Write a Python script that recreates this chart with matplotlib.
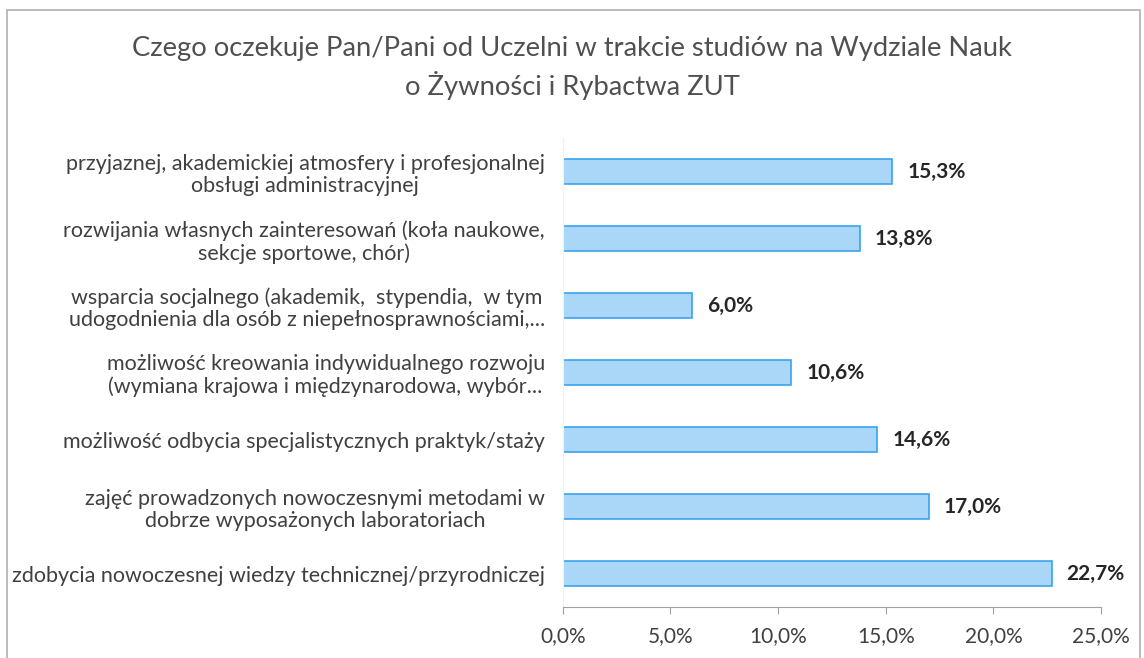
import matplotlib.pyplot as plt
from matplotlib.patches import Rectangle
from matplotlib.ticker import FuncFormatter

# dane (od góry do dołu)
categories = [
    'przyjaznej, akademickiej atmosfery i profesjonalnej\nobsługi administracyjnej',
    'rozwijania własnych zainteresowań (koła naukowe,\nsekcje sportowe, chór)',
    'wsparcia socjalnego (akademik,  stypendia,  w tym\nudogodnienia dla osób z niepełnosprawnościami,...',
    'możliwość kreowania indywidualnego rozwoju\n(wymiana krajowa i międzynarodowa, wybór...',
    'możliwość odbycia specjalistycznych praktyk/staży',
    'zajęć prowadzonych nowoczesnymi metodami w\ndobrze wyposażonych laboratoriach',
    'zdobycia nowoczesnej wiedzy technicznej/przyrodniczej',
]
values = [15.3, 13.8, 6.0, 10.6, 14.6, 17.0, 22.7]
xticks = [0, 5, 10, 15, 20, 25]

plt.rcParams['font.family'] = ['Lato', 'DejaVu Sans']

fig = plt.figure(figsize=(11.44, 6.58), dpi=100)
fig.patch.set_facecolor('white')
fig.patches.append(Rectangle((7 / 1144, -0.05), 1133 / 1144, 1.05 - 10 / 658,
                             transform=fig.transFigure, fill=False,
                             edgecolor='#b0b0b0', linewidth=1.2))

ax = fig.add_axes([0.492, 0.0775, 0.4705, 0.7125])
ys = list(range(len(values)))
ax.barh(ys, values, height=0.38, color='#aad6f7', edgecolor='#3aa3ee', linewidth=1.2)
ax.set_ylim(len(values) - 0.5, -0.5)
ax.set_xlim(0, 25)

ax.set_yticks(ys)
ax.set_yticklabels(categories, fontsize=15.5, color='#404040',
                   multialignment='center', linespacing=1.15)
ax.tick_params(axis='y', length=0, pad=13)

ax.set_xticks(xticks)
ax.xaxis.set_major_formatter(FuncFormatter(lambda v, p: f'{v:.1f}%'.replace('.', ',')))
ax.tick_params(axis='x', length=5, color='#a0a0a0', labelsize=15, labelcolor='#404040', pad=9)

for s in ['top', 'right']:
    ax.spines[s].set_visible(False)
ax.spines['left'].set_color('#f2f2f2')
ax.spines['bottom'].set_color('#a0a0a0')

for y, v in zip(ys, values):
    ax.text(v + 0.7, y, f'{v:.1f}%'.replace('.', ','), va='center', ha='left',
            fontsize=15, fontweight='bold', color='#262626')

fig.text(0.5, 0.897, 'Czego oczekuje Pan/Pani od Uczelni w trakcie studiów na Wydziale Nauk\no Żywności i Rybactwa ZUT',
         ha='center', va='center', fontsize=19.7, color='#505050', linespacing=1.4)

fig.savefig('out.png', dpi=100)
